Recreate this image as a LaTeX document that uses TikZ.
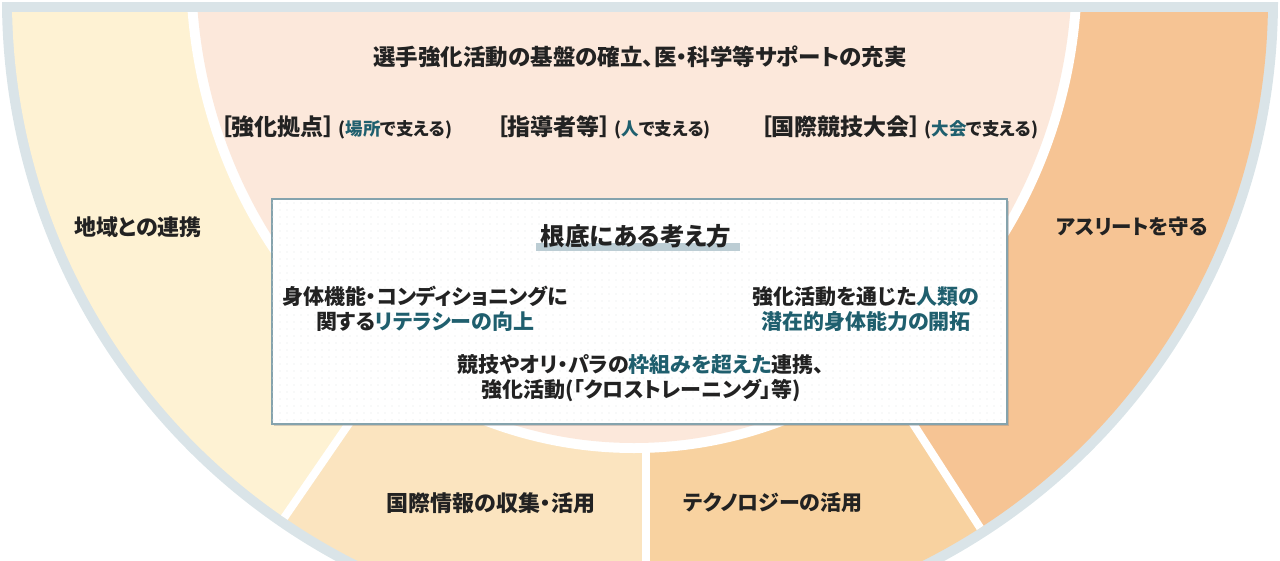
\documentclass[tikz,border=0pt]{standalone}
\usepackage{fontspec}
\setmainfont{Noto Sans CJK JP}[RawFeature={+palt}]
\usepackage{xcolor}
\usepackage{tikz}
\usetikzlibrary{positioning, calc, shadows, patterns.meta}
\definecolor{rimgray}{RGB}{218,228,232}
\definecolor{localyellow}{RGB}{254,242,211}
\definecolor{basepink}{RGB}{252,232,219}
\definecolor{infobeige}{RGB}{251,228,191}
\definecolor{techorange}{RGB}{248,210,160}
\definecolor{athleteorange}{RGB}{246,196,148}
\definecolor{coreline}{RGB}{133,163,173}
\definecolor{markbar}{RGB}{188,205,212}
\definecolor{dotgray}{RGB}{225,230,232}
\definecolor{accent}{RGB}{31,95,110}
\definecolor{inkgray}{RGB}{34,34,34}
\newcommand{\hl}[1]{{\color{accent}#1}}

\begin{document}
\begin{tikzpicture}[x=1pt, y=1pt,
    gap/.style={white, line width=8pt},
    sectorlabel/.style={font=\bfseries\fontsize{22}{26}\selectfont, text=inkgray},
    bodytext/.style={font=\bfseries\fontsize{21}{25}\selectfont, text=inkgray, align=center},
    pillar/.style={anchor=base west, inner sep=0pt, text=inkgray, font=\bfseries\fontsize{23}{26}\selectfont},
    pillarnote/.style={anchor=base west, inner sep=0pt, text=inkgray, font=\bfseries\fontsize{17.5}{20}\selectfont},
    big/.style={font=\bfseries\fontsize{22.5}{26}\selectfont},
    core/.style={rectangle, draw=coreline, line width=2.2pt, fill=white, minimum width=735pt, minimum height=225pt,
        drop shadow={shadow xshift=1.5pt, shadow yshift=-1.5pt, opacity=0.35}}
]
    \useasboundingbox (0,0) rectangle (1280,-560);
    \coordinate (hub) at (640,0);

    % Outer rim
    \begin{scope}
        \clip (0,-2) rectangle (1280,-560);
        \fill[rimgray] (hub) circle (638);
    \end{scope}

    % Sectors
    \begin{scope}
        \clip (0,-12) rectangle (1280,-560);
        \fill[localyellow] (hub) -- ++(180:628) arc[start angle=180, end angle=235.5, radius=628] -- cycle;
        \fill[infobeige] (hub) -- ++(235.5:628) arc[start angle=235.5, end angle=270.6, radius=628] -- cycle;
        \fill[techorange] (hub) -- ++(270.6:628) arc[start angle=270.6, end angle=302.8, radius=628] -- cycle;
        \fill[athleteorange] (hub) -- ++(302.8:628) arc[start angle=302.8, end angle=360, radius=628] -- cycle;
        % Dividers
        \draw[gap] (hub) ++(235.5:400) -- ++(235.5:228);
        \draw[gap] (hub) ++(302.8:400) -- ++(302.8:228);
        \draw[gap] (646,-400) -- (646,-640);
        % Base area
        \fill[white] (634,30) ellipse[x radius=448, y radius=483];
        \fill[basepink] (634,30) ellipse[x radius=438, y radius=473];
    \end{scope}

    % Base area texts
    \node[big, text=inkgray] (base) at (640,-57) {選手強化活動の基盤の確立、医・科学等サポートの充実};
    \node[pillar] (hubs) at (220,-135) {［強化拠点］};
    \node[pillarnote] (hubsnote) at ([xshift=3pt]hubs.base east) {(\hl{場所}で支える)};
    \node[pillar] (coaches) at (496,-135) {［指導者等］};
    \node[pillarnote] (coachesnote) at ([xshift=3pt]coaches.base east) {(\hl{人}で支える)};
    \node[pillar] (events) at (760,-135) {［国際競技大会］};
    \node[pillarnote] (eventsnote) at ([xshift=3pt]events.base east) {(\hl{大会}で支える)};

    % Ring labels
    \node[sectorlabel] (local) at (138,-227) {地域との連携};
    \node[sectorlabel, font=\bfseries\fontsize{20.5}{24}\selectfont] (athlete) at (1132,-227) {アスリートを守る};
    \node[sectorlabel] (info) at (491,-503) {国際情報の収集・活用};
    \node[sectorlabel, font=\bfseries\fontsize{21}{24}\selectfont] (tech) at (773,-503) {テクノロジーの活用};

    % Core ideas box
    \node[core, postaction={pattern={Dots[distance=7pt, radius=0.6pt]}, pattern color=dotgray}] (core) at (639.5,-311.5) {};
    \fill[markbar] (536,-243) rectangle (740,-251);
    \node[font=\bfseries\fontsize{24.5}{28}\selectfont, text=inkgray] (coretitle) at (636,-236) {根底にある考え方};
    \node[bodytext] (literacy) at (425,-309) {身体機能・コンディショニングに\\関する\hl{リテラシーの向上}};
    \node[bodytext] (potential) at (866,-309) {強化活動を通じた\hl{人類の}\\\hl{潜在的身体能力の開拓}};
    \node[bodytext] (cross) at (641,-378) {競技やオリ・パラの\hl{枠組みを超えた}連携、\\強化活動(「クロストレーニング」等)};
\end{tikzpicture}
\end{document}
